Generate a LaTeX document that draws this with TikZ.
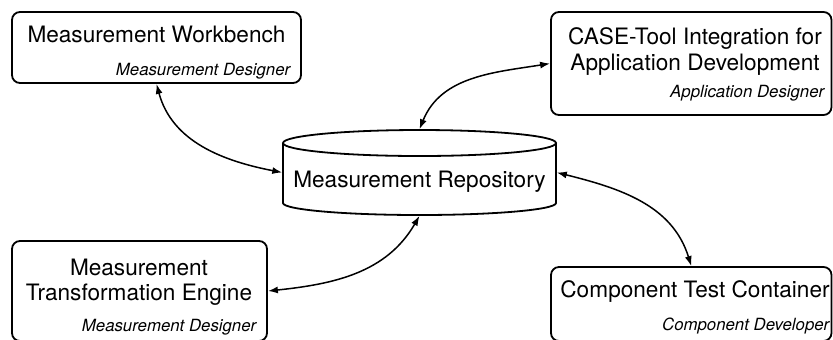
\documentclass[tikz,border=0pt]{standalone}
\usepackage{fontspec}
\setmainfont{TeX Gyre Heros}
\usetikzlibrary{arrows.meta}

\tikzset{every picture/.style={line width=0.75pt}}
\tikzset{
  toolbox/.style={draw, rounded corners=4pt, line width=0.9pt, inner sep=0pt},
  title/.style={font=\fontsize{11.3}{12.8}\selectfont, inner sep=0pt, align=center},
  role/.style={font=\fontsize{8.4}{10}\selectfont\itshape, inner sep=0pt},
  repobox/.style={font=\fontsize{11.3}{12.8}\selectfont, inner sep=0pt, minimum width=136.5pt, minimum height=42.5pt, text height=14.5pt, text depth=0pt},
  link/.style={{Latex[length=5pt,width=3.5pt]}-{Latex[length=5pt,width=3.5pt]}, line width=0.75pt},
}

\begin{document}
\begin{tikzpicture}[x=0.5pt,y=0.5pt,yscale=-1,xscale=1]
\useasboundingbox (0,0) rectangle (833,339);
\clip (0,0) rectangle (833,339);

% Boxes
\node[toolbox, minimum width=144.5pt, minimum height=35.5pt] (wb) at (156.5,47.5) {};
\node[toolbox, minimum width=140.25pt, minimum height=51.5pt] (case) at (691.25,63.5) {};
\node[toolbox, minimum width=127.5pt, minimum height=50pt] (tm) at (139.5,291) {};
\node[toolbox, minimum width=140.25pt, minimum height=37pt] (comp) at (691.25,304) {};

% Repository
\draw[line width=0.9pt] (419.5,143) ellipse [x radius=136.5, y radius=13];
\draw[line width=0.9pt] (283,143) -- (283,203) arc[start angle=180, end angle=0, x radius=136.5, y radius=12] -- (556,143);
\node[repobox] (repo) at (419.5,172.5) {Measurement Repository};

% Text Node
\node[title, anchor=base] (wbT) at (156.5,42) {Measurement Workbench};
\node[role, anchor=base east] (wbR) at (291,75) {Measurement Designer};
% Text Node
\node[title, anchor=north] (caseT) at (695,27) {CASE-Tool Integration for\\Application Development};
\node[role, anchor=base east] (caseR) at (825,97) {Application Designer};
% Text Node
\node[title, anchor=north] (tmT) at (139,258) {Measurement\\Transformation Engine};
\node[role, anchor=base east] (tmR) at (257,331) {Measurement Designer};
% Text Node
\node[title, anchor=base] (compT) at (695,297) {Component Test Container};
\node[role, anchor=base east] (compR) at (830,330) {Component Developer};

% Links
\draw[link] (wb.south) to[out=75, in=191] (repo.west);
\draw[link] (repo.north) to[out=-68, in=171] (case.west);
\draw[link] (repo.east) to[out=14, in=253] (comp.north);
\draw[link] (repo.south) to[out=120, in=354] (tm.east);

\end{tikzpicture}
\end{document}
